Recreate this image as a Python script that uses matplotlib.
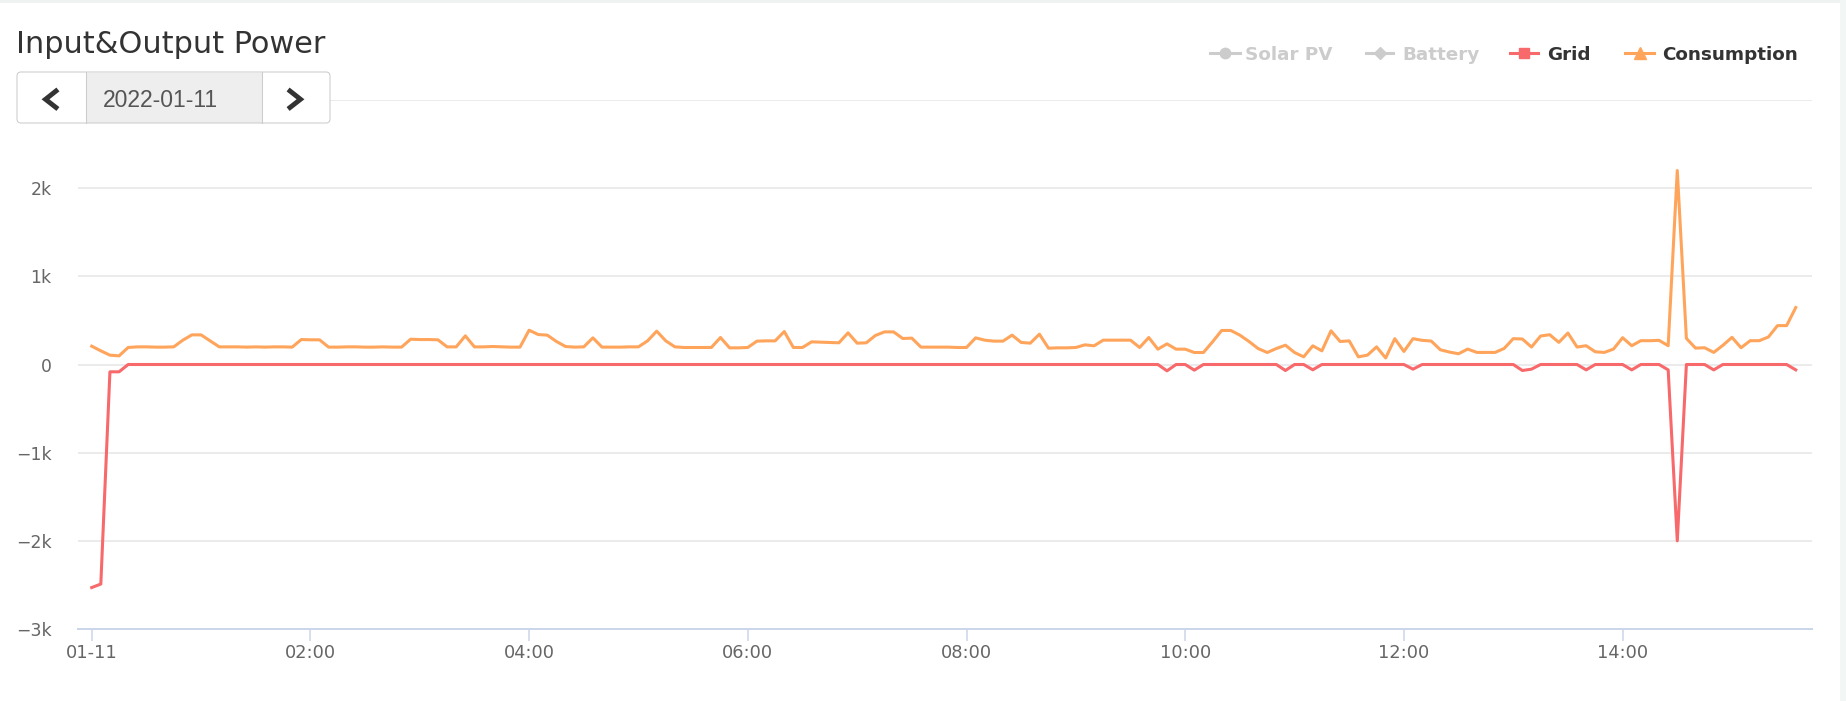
import numpy as np
import matplotlib.pyplot as plt
from matplotlib.lines import Line2D
from matplotlib.patches import Rectangle, FancyBboxPatch
from matplotlib.transforms import IdentityTransform

# 5-minute samples starting at 00:00
consumption = [
    208, 155, 106, 98, 193, 200, 200, 197, 197, 200, 276, 336, 336, 268, 200, 200,
    200, 197, 200, 197, 200, 200, 197, 283, 280, 280, 197, 197, 200, 200, 197, 197,
    200, 197, 197, 287, 283, 283, 280, 200, 200, 325, 200, 200, 204, 200, 197, 197,
    389, 340, 333, 261, 204, 197, 200, 302, 197, 197, 197, 200, 200, 268, 378, 268,
    200, 193, 193, 193, 193, 306, 189, 189, 193, 265, 268, 268, 374, 193, 193, 257,
    253, 250, 246, 359, 242, 246, 329, 370, 370, 295, 299, 197, 197, 197, 197, 193,
    193, 302, 276, 265, 265, 333, 250, 242, 344, 185, 189, 189, 193, 223, 212, 276,
    276, 276, 276, 193, 306, 174, 234, 174, 174, 136, 136, 257, 386, 386, 333, 261,
    181, 136, 181, 219, 136, 87, 212, 155, 382, 261, 268, 87, 106, 200, 74, 293,
    148, 293, 274, 266, 167, 141, 122, 175, 137, 137, 137, 182, 293, 289, 198, 323,
    338, 251, 357, 198, 213, 144, 137, 175, 304, 213, 270, 270, 274, 213, 2200, 296,
    186, 190, 137, 217, 308, 190, 270, 270, 312, 441, 441, 646,
]
grid = [
    -2530, -2490, -83, -83, 0, 0, 0, 0, 0, 0, 0, 0, 0, 0, 0, 0,
    0, 0, 0, 0, 0, 0, 0, 0, 0, 0, 0, 0, 0, 0, 0, 0,
    0, 0, 0, 0, 0, 0, 0, 0, 0, 0, 0, 0, 0, 0, 0, 0,
    0, 0, 0, 0, 0, 0, 0, 0, 0, 0, 0, 0, 0, 0, 0, 0,
    0, 0, 0, 0, 0, 0, 0, 0, 0, 0, 0, 0, 0, 0, 0, 0,
    0, 0, 0, 0, 0, 0, 0, 0, 0, 0, 0, 0, 0, 0, 0, 0,
    0, 0, 0, 0, 0, 0, 0, 0, 0, 0, 0, 0, 0, 0, 0, 0,
    0, 0, 0, 0, 0, 0, -72, 0, 0, -64, 0, 0, 0, 0, 0, 0,
    0, 0, 0, -68, 0, 0, -60, 0, 0, 0, 0, 0, 0, 0, 0, 0,
    0, -53, 0, 0, 0, 0, 0, 0, 0, 0, 0, 0, 0, -68, -53, 0,
    0, 0, 0, 0, -61, 0, 0, 0, 0, -61, 0, 0, 0, -61, -2000, 0,
    0, 0, -61, 0, 0, 0, 0, 0, 0, 0, 0, -61,
]
tick_hours = [0, 2, 4, 6, 8, 10, 12, 14]
tick_labels = ['01-11', '02:00', '04:00', '06:00', '08:00', '10:00', '12:00', '14:00']
y_ticks = [-3000, -2000, -1000, 0, 1000, 2000, 3000]
y_labels = ['\u22123k', '\u22122k', '\u22121k', '0', '1k', '2k', '3k']
legend_names = ['Solar PV', 'Battery', 'Grid', 'Consumption']

GRID_C = '#f7696b'
CONS_C = '#ffa45b'
OFF_C = '#cccccc'

W, H = 1846, 701
PX = IdentityTransform()


def main():
    fig = plt.figure(figsize=(W / 100, H / 100), dpi=100)
    ax = fig.add_axes([78 / W, 1 - 629 / H, 1734 / W, 529 / H])

    hours = np.arange(len(consumption)) / 12
    ax.plot(hours, grid, color=GRID_C, lw=2.2, solid_joinstyle='round', zorder=3)
    ax.plot(hours, consumption, color=CONS_C, lw=2.2, solid_joinstyle='round', zorder=4)

    ax.set_xlim(-0.1253, 15.732)
    ax.set_ylim(-3000, 3000)
    ax.set_yticks(y_ticks, y_labels)
    ax.set_xticks(tick_hours, tick_labels)
    ax.grid(axis='y', color='#e6e6e6', lw=1.1)
    ax.set_axisbelow(True)
    for s in ['top', 'right', 'left']:
        ax.spines[s].set_visible(False)
    ax.spines['bottom'].set_color('#ccd6eb')
    ax.spines['bottom'].set_linewidth(1.44)
    ax.tick_params(axis='y', length=0, pad=19, labelsize=12.4, labelcolor='#666666')
    ax.tick_params(axis='x', length=8.6, width=1.1, color='#ccd6eb', pad=2.5,
                   labelsize=12.8, labelcolor='#666666')

    # page chrome
    fig.add_artist(Rectangle((0, H - 3), W, 3, transform=PX, fc='#eef3f2', ec='none'))
    fig.add_artist(Rectangle((1840, 0), 6, H, transform=PX, fc='#f2f6f5', ec='none'))

    fig.text(16, H - 53, 'Input&Output Power', transform=PX, va='baseline',
             fontsize=21.9, color='#333333')

    # date picker
    fig.add_artist(FancyBboxPatch((17, H - 123), 313, 51, transform=PX,
                                  boxstyle='round,pad=0,rounding_size=4',
                                  fc='white', ec='none'))
    fig.add_artist(Rectangle((85.7, H - 122.5), 176, 50, transform=PX,
                             fc='#eeeeee', ec='none'))
    for xs in [85.7, 261.7]:
        fig.add_artist(Line2D([xs, xs], [H - 123, H - 72], transform=PX,
                              color='#cccccc', lw=0.75))
    fig.add_artist(FancyBboxPatch((17, H - 123), 313, 51, transform=PX,
                                  boxstyle='round,pad=0,rounding_size=4',
                                  fc='none', ec='#cccccc', lw=0.75))
    fig.add_artist(Line2D([56, 45.5, 56], [H - 91, H - 99.3, H - 107.5], transform=PX,
                          color='#333333', lw=3.5, solid_joinstyle='miter'))
    fig.add_artist(Line2D([290, 300.5, 290], [H - 91, H - 99.3, H - 107.5], transform=PX,
                          color='#333333', lw=3.5, solid_joinstyle='miter'))
    fig.text(160.5, H - 107.3, '2022-01-11', transform=PX, ha='center', va='baseline',
             fontsize=16.5, family='Liberation Sans', color='#555555')

    # legend
    items = [
        (1210, 1240, 1245, 'o', 7.5, OFF_C, OFF_C),
        (1366, 1393, 1402, 'D', 6, OFF_C, OFF_C),
        (1510, 1538, 1547, 's', 7.5, GRID_C, '#333333'),
        (1625, 1654, 1662, '^', 8.5, CONS_C, '#333333'),
    ]
    ly = H - 53
    for name, (x0, x1, tx, mk, ms, c, tc) in zip(legend_names, items):
        fig.add_artist(Line2D([x0, x1], [ly, ly], transform=PX, color=c, lw=2.2))
        fig.add_artist(Line2D([(x0 + x1) / 2], [ly], transform=PX, marker=mk, ms=ms,
                              color=c, mec=c, linestyle='none'))
        fig.text(tx, H - 60, name, transform=PX, va='baseline', fontsize=13.2,
                 fontweight='bold', color=tc)

    fig.savefig('out.png', dpi=100)


main()
